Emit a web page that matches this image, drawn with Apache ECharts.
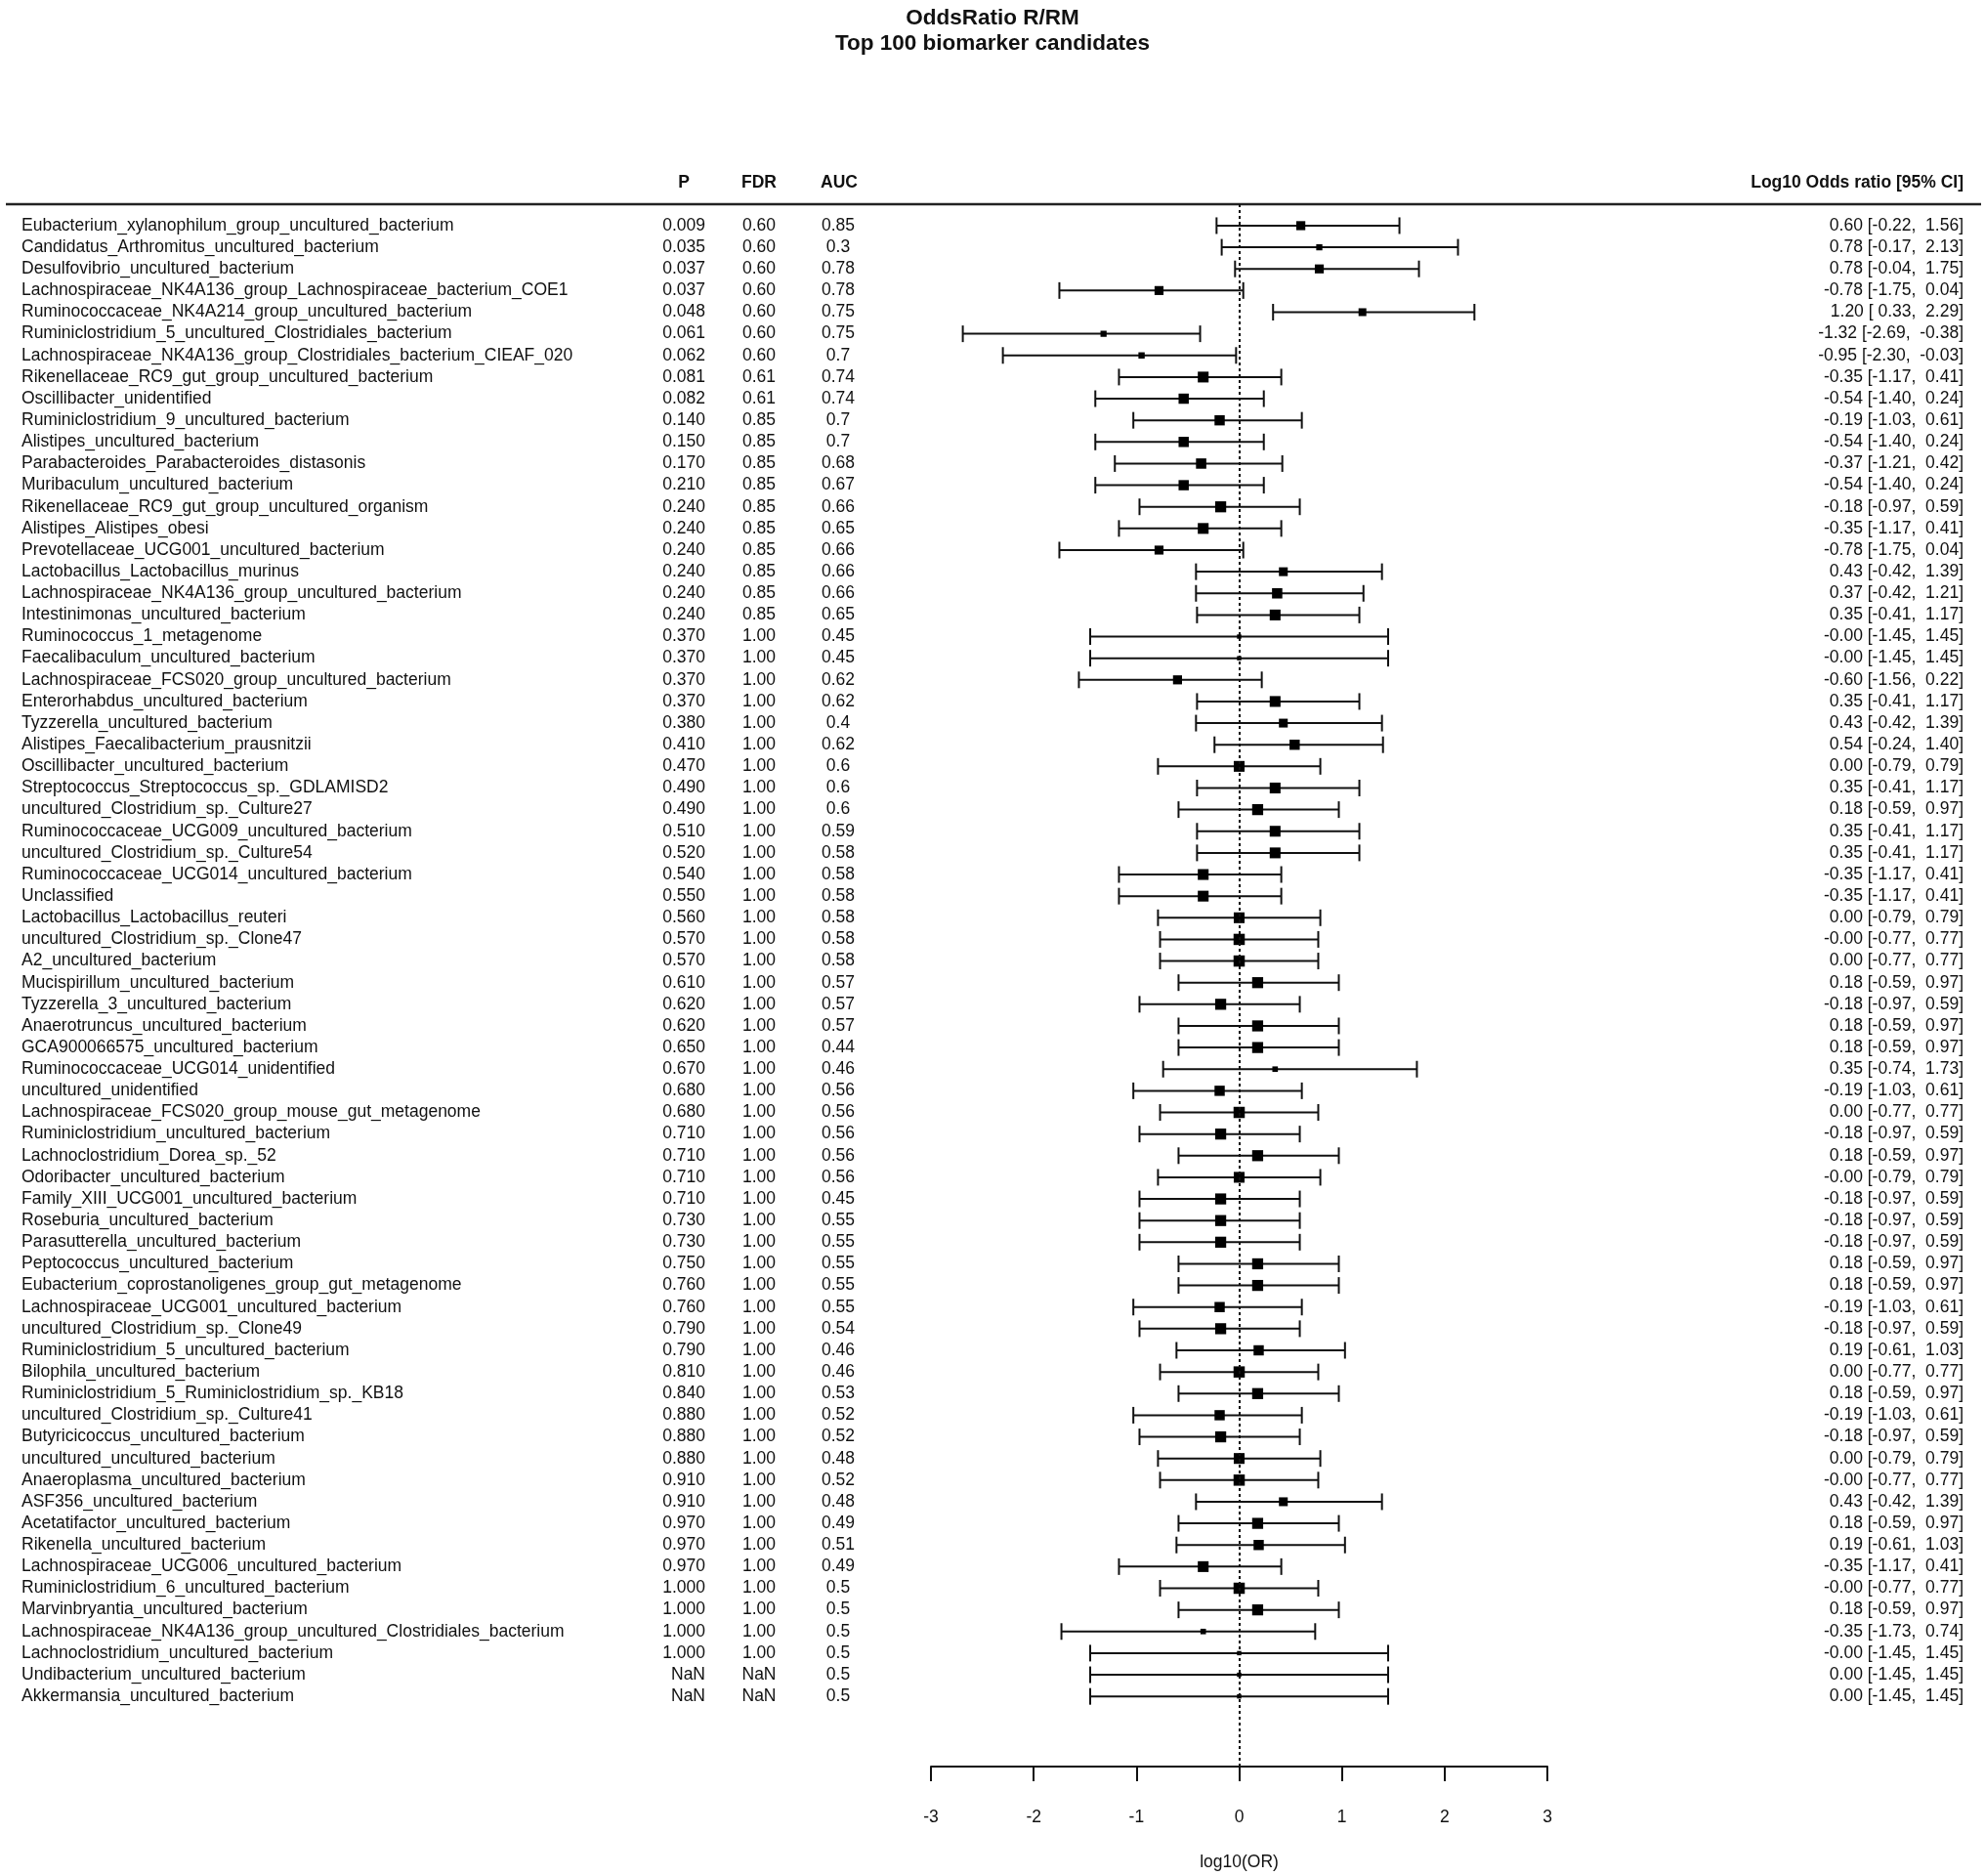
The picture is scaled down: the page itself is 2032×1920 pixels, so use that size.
<!DOCTYPE html>
<html>
<head>
<meta charset="utf-8">
<script src="https://cdn.jsdelivr.net/npm/echarts@6/dist/echarts.min.js"></script>
<style>
  html, body { margin: 0; padding: 0; background: #fff; }
  #chart { width: 2032px; height: 1920px; }
</style>
</head>
<body>
<div id="chart"></div>
<script>
const taxa = [
  "Eubacterium_xylanophilum_group_uncultured_bacterium",
  "Candidatus_Arthromitus_uncultured_bacterium",
  "Desulfovibrio_uncultured_bacterium",
  "Lachnospiraceae_NK4A136_group_Lachnospiraceae_bacterium_COE1",
  "Ruminococcaceae_NK4A214_group_uncultured_bacterium",
  "Ruminiclostridium_5_uncultured_Clostridiales_bacterium",
  "Lachnospiraceae_NK4A136_group_Clostridiales_bacterium_CIEAF_020",
  "Rikenellaceae_RC9_gut_group_uncultured_bacterium",
  "Oscillibacter_unidentified",
  "Ruminiclostridium_9_uncultured_bacterium",
  "Alistipes_uncultured_bacterium",
  "Parabacteroides_Parabacteroides_distasonis",
  "Muribaculum_uncultured_bacterium",
  "Rikenellaceae_RC9_gut_group_uncultured_organism",
  "Alistipes_Alistipes_obesi",
  "Prevotellaceae_UCG001_uncultured_bacterium",
  "Lactobacillus_Lactobacillus_murinus",
  "Lachnospiraceae_NK4A136_group_uncultured_bacterium",
  "Intestinimonas_uncultured_bacterium",
  "Ruminococcus_1_metagenome",
  "Faecalibaculum_uncultured_bacterium",
  "Lachnospiraceae_FCS020_group_uncultured_bacterium",
  "Enterorhabdus_uncultured_bacterium",
  "Tyzzerella_uncultured_bacterium",
  "Alistipes_Faecalibacterium_prausnitzii",
  "Oscillibacter_uncultured_bacterium",
  "Streptococcus_Streptococcus_sp._GDLAMISD2",
  "uncultured_Clostridium_sp._Culture27",
  "Ruminococcaceae_UCG009_uncultured_bacterium",
  "uncultured_Clostridium_sp._Culture54",
  "Ruminococcaceae_UCG014_uncultured_bacterium",
  "Unclassified",
  "Lactobacillus_Lactobacillus_reuteri",
  "uncultured_Clostridium_sp._Clone47",
  "A2_uncultured_bacterium",
  "Mucispirillum_uncultured_bacterium",
  "Tyzzerella_3_uncultured_bacterium",
  "Anaerotruncus_uncultured_bacterium",
  "GCA900066575_uncultured_bacterium",
  "Ruminococcaceae_UCG014_unidentified",
  "uncultured_unidentified",
  "Lachnospiraceae_FCS020_group_mouse_gut_metagenome",
  "Ruminiclostridium_uncultured_bacterium",
  "Lachnoclostridium_Dorea_sp._52",
  "Odoribacter_uncultured_bacterium",
  "Family_XIII_UCG001_uncultured_bacterium",
  "Roseburia_uncultured_bacterium",
  "Parasutterella_uncultured_bacterium",
  "Peptococcus_uncultured_bacterium",
  "Eubacterium_coprostanoligenes_group_gut_metagenome",
  "Lachnospiraceae_UCG001_uncultured_bacterium",
  "uncultured_Clostridium_sp._Clone49",
  "Ruminiclostridium_5_uncultured_bacterium",
  "Bilophila_uncultured_bacterium",
  "Ruminiclostridium_5_Ruminiclostridium_sp._KB18",
  "uncultured_Clostridium_sp._Culture41",
  "Butyricicoccus_uncultured_bacterium",
  "uncultured_uncultured_bacterium",
  "Anaeroplasma_uncultured_bacterium",
  "ASF356_uncultured_bacterium",
  "Acetatifactor_uncultured_bacterium",
  "Rikenella_uncultured_bacterium",
  "Lachnospiraceae_UCG006_uncultured_bacterium",
  "Ruminiclostridium_6_uncultured_bacterium",
  "Marvinbryantia_uncultured_bacterium",
  "Lachnospiraceae_NK4A136_group_uncultured_Clostridiales_bacterium",
  "Lachnoclostridium_uncultured_bacterium",
  "Undibacterium_uncultured_bacterium",
  "Akkermansia_uncultured_bacterium"
];

const pValues = ["0.009","0.035","0.037","0.037","0.048","0.061","0.062","0.081","0.082","0.140",
  "0.150","0.170","0.210","0.240","0.240","0.240","0.240","0.240","0.240","0.370",
  "0.370","0.370","0.370","0.380","0.410","0.470","0.490","0.490","0.510","0.520",
  "0.540","0.550","0.560","0.570","0.570","0.610","0.620","0.620","0.650","0.670",
  "0.680","0.680","0.710","0.710","0.710","0.710","0.730","0.730","0.750","0.760",
  "0.760","0.790","0.790","0.810","0.840","0.880","0.880","0.880","0.910","0.910",
  "0.970","0.970","0.970","1.000","1.000","1.000","1.000","NaN","NaN"];

const fdrValues = ["0.60","0.60","0.60","0.60","0.60","0.60","0.60","0.61","0.61","0.85",
  "0.85","0.85","0.85","0.85","0.85","0.85","0.85","0.85","0.85","1.00",
  "1.00","1.00","1.00","1.00","1.00","1.00","1.00","1.00","1.00","1.00",
  "1.00","1.00","1.00","1.00","1.00","1.00","1.00","1.00","1.00","1.00",
  "1.00","1.00","1.00","1.00","1.00","1.00","1.00","1.00","1.00","1.00",
  "1.00","1.00","1.00","1.00","1.00","1.00","1.00","1.00","1.00","1.00",
  "1.00","1.00","1.00","1.00","1.00","1.00","1.00","NaN","NaN"];

const aucValues = ["0.85","0.3","0.78","0.78","0.75","0.75","0.7","0.74","0.74","0.7",
  "0.7","0.68","0.67","0.66","0.65","0.66","0.66","0.66","0.65","0.45",
  "0.45","0.62","0.62","0.4","0.62","0.6","0.6","0.6","0.59","0.58",
  "0.58","0.58","0.58","0.58","0.58","0.57","0.57","0.57","0.44","0.46",
  "0.56","0.56","0.56","0.56","0.56","0.45","0.55","0.55","0.55","0.55",
  "0.55","0.54","0.46","0.46","0.53","0.52","0.52","0.48","0.52","0.48",
  "0.49","0.51","0.49","0.5","0.5","0.5","0.5","0.5","0.5"];

// log10 odds ratio estimate, lower and upper 95% CI (-0 marks values printed as "-0.00")
const logOR = [0.60,0.78,0.78,-0.78,1.20,-1.32,-0.95,-0.35,-0.54,-0.19,
  -0.54,-0.37,-0.54,-0.18,-0.35,-0.78,0.43,0.37,0.35,-0,
  -0,-0.60,0.35,0.43,0.54,0.00,0.35,0.18,0.35,0.35,
  -0.35,-0.35,0.00,-0,0.00,0.18,-0.18,0.18,0.18,0.35,
  -0.19,0.00,-0.18,0.18,-0,-0.18,-0.18,-0.18,0.18,0.18,
  -0.19,-0.18,0.19,0.00,0.18,-0.19,-0.18,0.00,-0,0.43,
  0.18,0.19,-0.35,-0,0.18,-0.35,-0,0.00,0.00];

const ciLower = [-0.22,-0.17,-0.04,-1.75,0.33,-2.69,-2.30,-1.17,-1.40,-1.03,
  -1.40,-1.21,-1.40,-0.97,-1.17,-1.75,-0.42,-0.42,-0.41,-1.45,
  -1.45,-1.56,-0.41,-0.42,-0.24,-0.79,-0.41,-0.59,-0.41,-0.41,
  -1.17,-1.17,-0.79,-0.77,-0.77,-0.59,-0.97,-0.59,-0.59,-0.74,
  -1.03,-0.77,-0.97,-0.59,-0.79,-0.97,-0.97,-0.97,-0.59,-0.59,
  -1.03,-0.97,-0.61,-0.77,-0.59,-1.03,-0.97,-0.79,-0.77,-0.42,
  -0.59,-0.61,-1.17,-0.77,-0.59,-1.73,-1.45,-1.45,-1.45];

const ciUpper = [1.56,2.13,1.75,0.04,2.29,-0.38,-0.03,0.41,0.24,0.61,
  0.24,0.42,0.24,0.59,0.41,0.04,1.39,1.21,1.17,1.45,
  1.45,0.22,1.17,1.39,1.40,0.79,1.17,0.97,1.17,1.17,
  0.41,0.41,0.79,0.77,0.77,0.97,0.59,0.97,0.97,1.73,
  0.61,0.77,0.59,0.97,0.79,0.59,0.59,0.59,0.97,0.97,
  0.61,0.59,1.03,0.77,0.97,0.61,0.59,0.79,0.77,1.39,
  0.97,1.03,0.41,0.77,0.97,0.74,1.45,1.45,1.45];

const xTicks = [-3, -2, -1, 0, 1, 2, 3];

// ---------- layout / style ----------
const FONT = "'Liberation Sans', Arial, Helvetica, sans-serif";
const FS = 17.5;
const nRows = taxa.length;
const GRID_TOP = 209, GRID_BOTTOM_PX = 1812;
const FIRST_ROW_Y = 231, LAST_ROW_Y = 1740;
const rowPx = (LAST_ROW_Y - FIRST_ROW_Y) / (nRows - 1);
const yMin = -(FIRST_ROW_Y - GRID_TOP) / rowPx;
const yMax = (nRows - 1) + (GRID_BOTTOM_PX - LAST_ROW_Y) / rowPx;

const COL_NAME_X = 22, COL_P_RIGHT = 722, COL_FDR_CENTER = 777, COL_AUC_CENTER = 858, COL_OR_RIGHT = 2010;

function fmtSigned(v) {
  const neg = v < 0 || Object.is(v, -0);
  return (neg ? '-' : '') + Math.abs(v).toFixed(2);
}
function padLow(v) {
  const s = fmtSigned(v);
  return s.length < 5 ? ' ' + s : s;
}
const orText = logOR.map((v, i) => fmtSigned(v) + ' [' + padLow(ciLower[i]) + ',  ' + fmtSigned(ciUpper[i]) + ']');

// box size from precision (derived from CI width)
const widths = ciLower.map((l, i) => ciUpper[i] - l);
const minWidth = Math.min(...widths);
const BOX_MAX = 11.5;

const forestData = taxa.map((_, i) => [i, ciLower[i], ciUpper[i], logOR[i]]);
const tableData = taxa.map((_, i) => [i]);

const chart = echarts.init(document.getElementById('chart'), null, { renderer: 'canvas' });

const option = {
  backgroundColor: '#ffffff',
  animation: false,
  title: {
    text: 'OddsRatio R/RM\nTop 100 biomarker candidates',
    left: 'center',
    top: 1,
    textStyle: { fontFamily: FONT, fontSize: 22.5, fontWeight: 'bold', color: '#111', lineHeight: 26 }
  },
  grid: { left: 953, right: 2032 - 1584, top: GRID_TOP, bottom: 1920 - GRID_BOTTOM_PX, containLabel: false },
  xAxis: {
    type: 'value', min: -3, max: 3, interval: 1,
    name: 'log10(OR)', nameLocation: 'middle', nameGap: 89,
    nameTextStyle: { fontFamily: FONT, fontSize: FS, color: '#111' },
    axisLine: { show: true, onZero: false, lineStyle: { color: '#111', width: 2 } },
    axisTick: { show: true, length: 15, lineStyle: { color: '#111', width: 2 } },
    axisLabel: { fontFamily: FONT, fontSize: FS, color: '#111', margin: 43,
      formatter: v => xTicks.includes(v) ? String(v) : '' },
    splitLine: { show: false }
  },
  yAxis: { type: 'value', min: yMin, max: yMax, inverse: true, show: false },
  graphic: [
    { type: 'line', shape: { x1: 6, y1: 209, x2: 2028, y2: 209 }, style: { stroke: '#222', lineWidth: 2.5 } },
    { type: 'text', x: 700, y: 187, style: { text: 'P', fontFamily: FONT, fontSize: FS, fontWeight: 'bold', fill: '#111', align: 'center', verticalAlign: 'middle' } },
    { type: 'text', x: 777, y: 187, style: { text: 'FDR', fontFamily: FONT, fontSize: FS, fontWeight: 'bold', fill: '#111', align: 'center', verticalAlign: 'middle' } },
    { type: 'text', x: 859, y: 187, style: { text: 'AUC', fontFamily: FONT, fontSize: FS, fontWeight: 'bold', fill: '#111', align: 'center', verticalAlign: 'middle' } },
    { type: 'text', x: COL_OR_RIGHT, y: 187, style: { text: 'Log10 Odds ratio [95% CI]', fontFamily: FONT, fontSize: FS, fontWeight: 'bold', fill: '#111', align: 'right', verticalAlign: 'middle' } }
  ],
  series: [
    {
      type: 'custom',
      name: 'forest',
      clip: false,
      data: forestData,
      encode: { x: [1, 2, 3], y: 0 },
      renderItem: function (params, api) {
        const i = api.value(0);
        const pLo = api.coord([api.value(1), i]);
        const pHi = api.coord([api.value(2), i]);
        const pEst = api.coord([api.value(3), i]);
        const y = pLo[1];
        const cap = 8.5;
        const s = Math.max(3.5, BOX_MAX * Math.pow(minWidth / widths[i], 1.5));
        const lineStyle = { stroke: '#111', lineWidth: 2 };
        return {
          type: 'group',
          children: [
            { type: 'line', shape: { x1: pLo[0], y1: y, x2: pHi[0], y2: y }, style: lineStyle },
            { type: 'line', shape: { x1: pLo[0], y1: y - cap, x2: pLo[0], y2: y + cap }, style: lineStyle },
            { type: 'line', shape: { x1: pHi[0], y1: y - cap, x2: pHi[0], y2: y + cap }, style: lineStyle },
            { type: 'rect', shape: { x: pEst[0] - s / 2, y: y - s / 2, width: s, height: s }, style: { fill: '#000' } }
          ]
        };
      },
      markLine: {
        silent: true,
        symbol: ['none', 'none'],
        label: { show: false },
        lineStyle: { color: '#111', type: [3, 3], width: 2 },
        data: [{ xAxis: 0 }]
      },
      z: 3
    },
    {
      type: 'custom',
      name: 'table',
      clip: false,
      data: tableData,
      encode: { y: 0 },
      renderItem: function (params, api) {
        const i = api.value(0);
        const y = api.coord([0, i])[1];
        const base = { fontFamily: FONT, fontSize: FS, fill: '#111', verticalAlign: 'middle' };
        return {
          type: 'group',
          children: [
            { type: 'text', x: COL_NAME_X, y: y, style: Object.assign({ text: taxa[i], align: 'left' }, base) },
            { type: 'text', x: COL_P_RIGHT, y: y, style: Object.assign({ text: pValues[i], align: 'right' }, base) },
            { type: 'text', x: COL_FDR_CENTER, y: y, style: Object.assign({ text: fdrValues[i], align: 'center' }, base) },
            { type: 'text', x: COL_AUC_CENTER, y: y, style: Object.assign({ text: aucValues[i], align: 'center' }, base) },
            { type: 'text', x: COL_OR_RIGHT, y: y, style: Object.assign({ text: orText[i], align: 'right' }, base) }
          ]
        };
      }
    }
  ]
};

chart.setOption(option);
</script>
</body>
</html>
